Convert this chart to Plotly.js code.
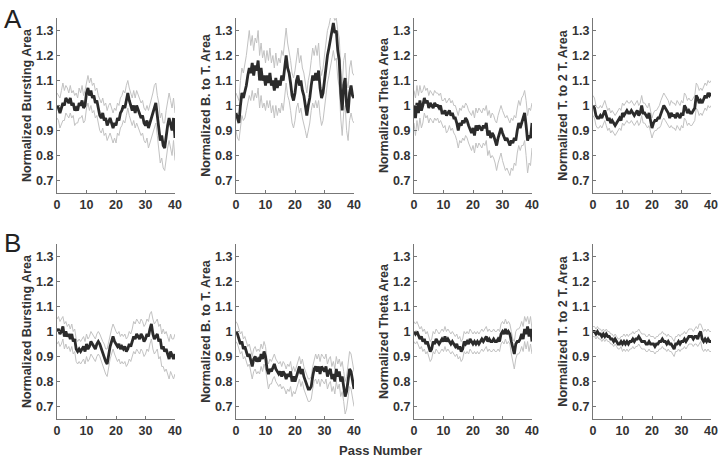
<!DOCTYPE html>
<html>
<head>
<meta charset="utf-8">
<script src="https://cdn.plot.ly/plotly-3.0.1.min.js"></script>
<style>html,body{margin:0;padding:0;background:#fff;}#chart{width:720px;height:459px;}</style>
</head>
<body>
<div id="chart"></div>
<script>
// Pass numbers (x grid, step 0.5 from 0 to 40)
const passes = [];
for (let i = 0; i <= 80; i++) passes.push(i / 2);

const yTitles = ["Normalized Bursting Area", "Normalized B. to T. Area", "Normalized Theta Area", "Normalized T. to 2 T. Area"];
const rowLabels = ["A", "B"];
const xTickVals = [0, 10, 20, 30, 40];
const yTickVals = [0.7, 0.8, 0.9, 1.0, 1.1, 1.2, 1.3];

// ---- Row A ----
const burstA_mean = [1.00,0.99,0.97,0.99,1.01,1.00,1.03,1.02,1.01,1.03, 1.00,1.01,0.98,0.99,0.98,1.01,1.00,1.02,0.99,1.00, 1.05,1.07,1.04,1.06,1.03,1.04,1.01,1.02,0.98,0.96, 0.95,0.97,0.94,0.95,0.92,0.94,0.95,0.93,0.91,0.93, 0.92,0.95,0.94,0.97,0.98,1.00,0.99,1.02,1.05,1.02, 1.00,0.98,1.00,0.97,1.00,0.98,0.97,0.95,0.96,0.93, 0.92,0.94,0.91,0.93,0.95,0.97,1.00,1.01,0.96,0.92, 0.86,0.88,0.84,0.83,0.89,0.92,0.95,0.92,0.90,0.95, 0.87];
const burstA_upper = [1.05,1.04,1.03,1.06,1.09,1.06,1.08,1.07,1.05,1.08, 1.05,1.06,1.04,1.05,1.03,1.07,1.05,1.08,1.04,1.06, 1.10,1.12,1.09,1.11,1.08,1.09,1.06,1.07,1.04,1.02, 1.01,1.03,1.00,1.01,0.98,1.00,1.01,0.99,0.97,0.99, 0.98,1.01,1.00,1.03,1.04,1.06,1.05,1.08,1.10,1.07, 1.05,1.03,1.06,1.03,1.06,1.04,1.03,1.01,1.02,0.99, 0.98,1.00,0.98,1.00,1.02,1.05,1.08,1.09,1.04,1.01, 0.95,0.97,0.93,0.93,0.98,1.01,1.05,1.02,0.99,1.03, 0.97];
const burstA_lower = [0.95,0.94,0.91,0.93,0.94,0.94,0.97,0.96,0.95,0.97, 0.95,0.96,0.92,0.93,0.93,0.95,0.95,0.96,0.93,0.94, 0.99,1.01,0.98,1.00,0.97,0.98,0.95,0.96,0.92,0.90, 0.89,0.91,0.88,0.89,0.86,0.88,0.89,0.87,0.85,0.87, 0.85,0.89,0.88,0.91,0.92,0.94,0.93,0.96,0.99,0.96, 0.94,0.92,0.94,0.91,0.93,0.91,0.90,0.88,0.89,0.86, 0.85,0.87,0.83,0.85,0.87,0.89,0.92,0.93,0.88,0.83, 0.77,0.79,0.75,0.74,0.80,0.83,0.86,0.82,0.80,0.86, 0.78];

const btA_mean = [0.97,0.95,0.93,1.00,1.05,1.03,1.05,1.08,1.12,1.15, 1.13,1.17,1.12,1.16,1.14,1.18,1.10,1.15,1.10,1.12, 1.08,1.12,1.09,1.13,1.08,1.10,1.06,1.11,1.07,1.10, 1.08,1.12,1.10,1.16,1.20,1.15,1.13,1.09,1.04,1.02, 1.05,1.10,1.12,1.08,1.10,1.06,1.04,1.00,0.96,1.00, 1.03,1.08,1.12,1.10,1.13,1.10,1.14,1.07,1.03,1.05, 1.10,1.16,1.20,1.23,1.27,1.31,1.33,1.29,1.30,1.22, 1.18,1.05,0.98,1.08,1.11,1.00,0.97,1.05,1.08,1.04, 1.03];
const btA_upper = [1.05,1.03,1.02,1.10,1.15,1.13,1.16,1.20,1.25,1.30, 1.24,1.28,1.22,1.27,1.25,1.30,1.20,1.25,1.19,1.22, 1.17,1.22,1.18,1.23,1.17,1.20,1.15,1.21,1.16,1.19, 1.17,1.22,1.20,1.27,1.31,1.25,1.22,1.18,1.13,1.11, 1.14,1.20,1.23,1.17,1.20,1.15,1.13,1.09,1.05,1.10, 1.13,1.18,1.23,1.20,1.24,1.20,1.25,1.16,1.12,1.15, 1.20,1.26,1.30,1.32,1.35,1.36,1.36,1.34,1.35,1.30, 1.27,1.15,1.08,1.18,1.21,1.10,1.07,1.15,1.18,1.13, 1.12];
const btA_lower = [0.90,0.87,0.86,0.91,0.96,0.94,0.95,0.98,1.01,1.04, 1.02,1.06,1.02,1.05,1.03,1.07,0.99,1.04,0.99,1.01, 0.98,1.02,0.99,1.02,0.97,1.00,0.95,1.00,0.96,0.99, 0.97,1.01,0.98,1.05,1.09,1.04,1.02,0.98,0.93,0.91, 0.94,0.99,1.01,0.97,0.99,0.95,0.93,0.90,0.87,0.90, 0.93,0.98,1.01,0.99,1.02,0.99,1.02,0.96,0.92,0.94, 0.99,1.05,1.09,1.12,1.16,1.20,1.22,1.18,1.19,1.11, 1.07,0.95,0.88,0.97,1.00,0.90,0.86,0.94,0.97,0.94, 0.93];

const thetaA_mean = [1.00,0.95,1.01,0.97,1.02,0.98,1.00,1.03,1.01,1.02, 0.99,1.01,1.00,0.99,1.01,1.00,1.00,0.99,1.00,0.97, 0.97,0.98,0.96,0.97,0.98,0.96,0.97,0.95,0.95,0.93, 0.90,0.93,0.92,0.94,0.93,0.95,0.94,0.92,0.90,0.89, 0.91,0.88,0.92,0.90,0.92,0.91,0.90,0.92,0.91,0.93, 0.88,0.90,0.87,0.89,0.88,0.86,0.84,0.87,0.89,0.91, 0.89,0.87,0.86,0.87,0.85,0.84,0.86,0.85,0.87,0.86, 0.90,0.93,0.91,0.93,0.94,0.97,0.92,0.86,0.88,0.87, 0.93];
const thetaA_upper = [1.06,1.03,1.08,1.04,1.08,1.05,1.06,1.08,1.06,1.07, 1.04,1.06,1.05,1.04,1.06,1.05,1.05,1.04,1.05,1.02, 1.02,1.03,1.01,1.02,1.03,1.01,1.02,1.00,1.00,0.98, 0.96,0.99,0.98,1.00,0.99,1.01,1.00,0.98,0.97,0.96, 0.98,0.95,0.99,0.97,0.99,0.98,0.97,0.99,0.98,1.00, 0.96,0.98,0.95,0.97,0.96,0.94,0.93,0.96,0.98,1.00, 0.98,0.96,0.95,0.96,0.94,0.93,0.95,0.94,0.96,0.95, 0.99,1.02,1.00,1.03,1.04,1.06,1.02,0.96,0.99,0.98, 1.01];
const thetaA_lower = [0.93,0.88,0.94,0.90,0.95,0.91,0.93,0.97,0.95,0.96, 0.93,0.95,0.94,0.93,0.95,0.94,0.95,0.93,0.94,0.92, 0.91,0.92,0.89,0.90,0.92,0.90,0.91,0.89,0.88,0.86, 0.83,0.86,0.85,0.87,0.86,0.88,0.87,0.85,0.83,0.82, 0.84,0.81,0.85,0.83,0.85,0.84,0.83,0.85,0.84,0.86, 0.80,0.82,0.79,0.80,0.79,0.77,0.74,0.77,0.79,0.81, 0.78,0.76,0.74,0.75,0.73,0.72,0.75,0.74,0.77,0.76, 0.81,0.84,0.82,0.84,0.84,0.86,0.80,0.73,0.77,0.76, 0.83];

const t2tA_mean = [1.00,0.99,0.96,0.95,0.95,0.96,0.95,0.97,0.98,0.96, 0.94,0.95,0.93,0.94,0.93,0.92,0.93,0.94,0.95,0.94, 0.97,0.96,0.97,0.98,0.97,0.97,0.98,0.97,0.96,0.97, 0.98,0.96,0.97,1.00,0.97,0.97,0.96,0.95,0.97,0.93, 0.91,0.93,0.94,0.94,0.95,0.95,0.97,0.99,1.00,0.99, 0.98,0.97,0.95,0.97,0.96,0.96,0.95,0.97,0.96,0.95, 0.97,0.96,1.00,0.99,0.97,0.98,0.97,0.97,0.98,0.99, 1.04,1.03,1.01,1.02,1.01,1.03,1.04,1.03,1.05,1.04, 1.05];
const t2tA_upper = [1.04,1.03,1.00,0.99,0.99,1.00,0.99,1.01,1.02,1.00, 0.98,0.99,0.97,0.98,0.97,0.96,0.97,0.98,0.99,0.98, 1.01,1.00,1.01,1.02,1.01,1.01,1.02,1.01,1.00,1.01, 1.02,1.00,1.01,1.04,1.01,1.01,1.00,0.99,1.01,0.97, 0.95,0.97,0.98,0.98,0.99,1.00,1.02,1.04,1.05,1.04, 1.03,1.02,1.00,1.02,1.01,1.01,1.00,1.02,1.01,1.00, 1.02,1.01,1.05,1.04,1.02,1.03,1.02,1.02,1.03,1.04, 1.09,1.08,1.06,1.07,1.06,1.08,1.09,1.08,1.10,1.09, 1.10];
const t2tA_lower = [0.96,0.95,0.92,0.91,0.91,0.92,0.91,0.93,0.94,0.92, 0.90,0.91,0.89,0.90,0.89,0.88,0.89,0.90,0.91,0.90, 0.93,0.92,0.93,0.94,0.93,0.93,0.94,0.93,0.92,0.93, 0.94,0.92,0.93,0.96,0.93,0.93,0.92,0.91,0.92,0.89, 0.87,0.89,0.90,0.90,0.91,0.91,0.92,0.94,0.95,0.94, 0.93,0.92,0.91,0.92,0.91,0.91,0.90,0.92,0.91,0.90, 0.92,0.91,0.95,0.94,0.92,0.93,0.92,0.92,0.93,0.94, 0.99,0.98,0.96,0.97,0.96,0.98,0.99,0.98,1.00,0.99, 1.00];

// ---- Row B ----
const burstB_mean = [1.00,1.01,0.99,1.00,1.02,0.98,1.00,0.98,0.99,0.97, 0.99,0.96,0.97,0.93,0.92,0.93,0.92,0.93,0.94,0.92, 0.95,0.93,0.94,0.96,0.95,0.94,0.93,0.95,0.96,0.95, 0.93,0.92,0.90,0.88,0.87,0.91,0.94,0.96,0.98,0.96, 0.95,0.94,0.95,0.93,0.94,0.93,0.94,0.92,0.93,0.95, 0.94,0.96,0.98,0.97,0.99,0.98,0.97,0.99,0.98,0.96, 0.97,0.99,0.98,1.01,1.03,0.99,0.97,0.98,0.99,0.96, 0.97,0.93,0.94,0.92,0.93,0.91,0.89,0.92,0.90,0.89, 0.91];
const burstB_upper = [1.05,1.06,1.04,1.05,1.06,1.03,1.04,1.02,1.03,1.01, 1.03,1.00,1.01,0.97,0.96,0.97,0.96,0.97,0.98,0.96, 0.99,0.97,0.98,1.00,0.99,0.98,0.97,0.99,1.00,0.99, 0.97,0.96,0.95,0.93,0.93,0.96,0.99,1.01,1.03,1.01, 1.00,0.99,1.00,0.98,0.99,0.98,0.99,0.97,0.98,1.00, 0.99,1.01,1.04,1.03,1.05,1.04,1.03,1.05,1.04,1.02, 1.03,1.05,1.04,1.07,1.08,1.05,1.03,1.04,1.05,1.02, 1.03,0.99,1.01,0.99,1.00,0.98,0.96,0.99,0.97,0.97, 0.99];
const burstB_lower = [0.95,0.96,0.94,0.95,0.97,0.93,0.95,0.93,0.94,0.92, 0.94,0.91,0.92,0.88,0.87,0.88,0.87,0.88,0.89,0.87, 0.90,0.88,0.89,0.91,0.90,0.89,0.88,0.90,0.91,0.90, 0.88,0.87,0.85,0.83,0.82,0.86,0.89,0.91,0.93,0.91, 0.89,0.88,0.89,0.87,0.88,0.87,0.88,0.86,0.87,0.89, 0.88,0.90,0.92,0.91,0.93,0.92,0.91,0.93,0.92,0.90, 0.91,0.93,0.92,0.95,0.97,0.93,0.91,0.92,0.93,0.89, 0.90,0.86,0.86,0.84,0.85,0.83,0.81,0.84,0.82,0.81, 0.83];

const btB_mean = [1.00,0.99,0.97,0.95,0.96,0.93,0.94,0.92,0.90,0.91, 0.88,0.86,0.89,0.90,0.88,0.89,0.88,0.91,0.89,0.92, 0.90,0.85,0.83,0.85,0.84,0.86,0.87,0.85,0.84,0.83, 0.84,0.82,0.84,0.83,0.81,0.83,0.82,0.84,0.80,0.82, 0.80,0.82,0.84,0.86,0.83,0.85,0.82,0.80,0.79,0.77, 0.77,0.78,0.82,0.85,0.86,0.84,0.86,0.83,0.86,0.85, 0.84,0.86,0.82,0.84,0.85,0.81,0.83,0.80,0.85,0.82, 0.84,0.80,0.82,0.78,0.74,0.76,0.82,0.85,0.84,0.80, 0.77];
const btB_upper = [1.04,1.03,1.01,0.99,1.00,0.97,0.98,0.96,0.94,0.95, 0.92,0.90,0.93,0.94,0.92,0.93,0.92,0.95,0.93,0.96, 0.94,0.89,0.87,0.89,0.88,0.90,0.91,0.89,0.88,0.87, 0.88,0.86,0.88,0.87,0.85,0.87,0.86,0.88,0.84,0.86, 0.84,0.86,0.88,0.90,0.87,0.89,0.86,0.84,0.83,0.81, 0.81,0.82,0.86,0.89,0.91,0.89,0.91,0.88,0.91,0.90, 0.89,0.91,0.87,0.89,0.90,0.86,0.88,0.85,0.90,0.87, 0.89,0.86,0.88,0.84,0.80,0.82,0.88,0.92,0.91,0.87, 0.84];
const btB_lower = [0.96,0.95,0.93,0.91,0.92,0.89,0.90,0.88,0.86,0.87, 0.83,0.81,0.84,0.85,0.83,0.84,0.83,0.86,0.84,0.87, 0.85,0.80,0.77,0.79,0.79,0.81,0.82,0.80,0.79,0.78, 0.79,0.77,0.78,0.77,0.75,0.77,0.76,0.78,0.74,0.76, 0.75,0.77,0.79,0.81,0.78,0.80,0.77,0.75,0.74,0.72, 0.72,0.73,0.77,0.80,0.81,0.79,0.81,0.78,0.81,0.80, 0.79,0.81,0.77,0.79,0.80,0.76,0.78,0.75,0.80,0.77, 0.79,0.74,0.76,0.72,0.67,0.69,0.75,0.78,0.77,0.73, 0.70];

const thetaB_mean = [1.00,0.99,1.00,0.98,0.97,0.98,0.96,0.97,0.95,0.96, 0.94,0.92,0.93,0.96,0.95,0.97,0.96,0.95,0.96,0.97, 0.96,0.98,0.96,0.97,0.96,0.95,0.96,0.95,0.94,0.95, 0.93,0.94,0.92,0.93,0.96,0.95,0.96,0.95,0.97,0.96, 0.95,0.96,0.95,0.96,0.95,0.96,0.97,0.96,0.97,0.98, 0.96,0.97,0.96,0.96,0.97,0.96,0.96,0.97,0.96,0.99, 1.00,0.99,1.01,0.99,1.00,0.99,0.96,0.93,0.91,0.95, 0.96,0.96,0.97,0.99,0.97,1.01,0.99,1.02,0.98,1.01, 0.96];
const thetaB_upper = [1.04,1.03,1.04,1.02,1.01,1.02,1.00,1.01,0.99,1.00, 0.98,0.96,0.97,1.00,0.99,1.01,1.00,0.99,1.00,1.01, 1.00,1.02,1.00,1.01,1.00,0.99,1.00,0.99,0.98,0.99, 0.97,0.98,0.96,0.97,1.00,0.99,1.00,0.99,1.01,1.00, 0.99,1.00,0.99,1.00,0.99,1.00,1.01,1.00,1.01,1.02, 1.00,1.01,1.00,1.00,1.01,1.00,1.00,1.01,1.00,1.03, 1.04,1.03,1.05,1.03,1.04,1.03,1.00,0.97,0.96,1.00, 1.01,1.01,1.02,1.04,1.02,1.06,1.04,1.06,1.03,1.06, 1.01];
const thetaB_lower = [0.96,0.95,0.96,0.94,0.93,0.94,0.92,0.93,0.91,0.92, 0.90,0.88,0.89,0.92,0.91,0.93,0.92,0.91,0.92,0.93, 0.92,0.94,0.92,0.93,0.92,0.91,0.92,0.91,0.90,0.91, 0.89,0.90,0.88,0.89,0.92,0.91,0.92,0.91,0.93,0.92, 0.91,0.92,0.91,0.92,0.91,0.92,0.93,0.92,0.93,0.94, 0.92,0.93,0.92,0.92,0.93,0.92,0.92,0.93,0.92,0.95, 0.96,0.95,0.97,0.95,0.96,0.95,0.91,0.88,0.85,0.89, 0.91,0.91,0.92,0.94,0.92,0.96,0.93,0.96,0.92,0.95, 0.91];

const t2tB_mean = [1.00,1.00,0.99,1.00,0.99,0.99,0.98,0.99,0.98,0.99, 0.98,0.98,0.97,0.97,0.96,0.97,0.96,0.95,0.95,0.96, 0.95,0.96,0.95,0.96,0.95,0.96,0.96,0.97,0.96,0.97, 0.97,0.98,0.97,0.96,0.96,0.96,0.95,0.95,0.96,0.95, 0.95,0.95,0.94,0.95,0.95,0.96,0.96,0.97,0.96,0.96, 0.95,0.96,0.95,0.95,0.94,0.93,0.95,0.95,0.96,0.95, 0.96,0.96,0.97,0.96,0.97,0.98,0.98,0.98,0.97,0.98, 0.98,0.97,0.99,1.00,0.97,0.96,0.97,0.96,0.97,0.96, 0.96];
const t2tB_upper = [1.02,1.02,1.01,1.02,1.01,1.01,1.00,1.01,1.00,1.01, 1.00,1.00,0.99,0.99,0.98,0.99,0.98,0.97,0.97,0.98, 0.98,0.99,0.98,0.99,0.98,0.99,0.99,1.00,0.99,1.00, 1.00,1.01,1.00,0.99,0.99,0.99,0.98,0.98,0.99,0.98, 0.98,0.98,0.97,0.98,0.98,0.99,0.99,1.00,0.99,0.99, 0.98,0.99,0.98,0.98,0.97,0.96,0.98,0.98,0.99,0.98, 0.99,0.99,1.00,0.99,1.00,1.01,1.01,1.01,1.00,1.01, 1.02,1.01,1.03,1.03,1.01,1.00,1.01,1.00,1.01,1.00, 1.00];
const t2tB_lower = [0.98,0.98,0.97,0.98,0.97,0.97,0.96,0.97,0.96,0.97, 0.96,0.96,0.95,0.95,0.94,0.95,0.94,0.93,0.93,0.94, 0.92,0.93,0.92,0.93,0.92,0.93,0.93,0.94,0.93,0.94, 0.94,0.95,0.94,0.93,0.93,0.93,0.92,0.92,0.93,0.92, 0.92,0.92,0.91,0.92,0.92,0.93,0.93,0.94,0.93,0.93, 0.92,0.93,0.92,0.92,0.91,0.90,0.92,0.92,0.93,0.92, 0.93,0.93,0.94,0.93,0.94,0.95,0.95,0.95,0.94,0.95, 0.95,0.94,0.95,0.96,0.93,0.92,0.93,0.92,0.93,0.92, 0.92];

const panels = [
  [burstA_mean, burstA_upper, burstA_lower], [btA_mean, btA_upper, btA_lower],
  [thetaA_mean, thetaA_upper, thetaA_lower], [t2tA_mean, t2tA_upper, t2tA_lower],
  [burstB_mean, burstB_upper, burstB_lower], [btB_mean, btB_upper, btB_lower],
  [thetaB_mean, thetaB_upper, thetaB_lower], [t2tB_mean, t2tB_upper, t2tB_lower]
];

const W = 720, H = 459;
const colLeft = [57, 236, 414, 593];
const plotW = 118;
const rowTop = [18, 244];
const plotH = 175;

const FONT = "Liberation Sans, Arial, Helvetica, sans-serif";
const traces = [];
const layout = {
  width: W, height: H,
  margin: {l: 0, r: 0, t: 0, b: 0},
  paper_bgcolor: "#fff", plot_bgcolor: "#fff",
  showlegend: false,
  font: {family: FONT, color: "#333"},
  annotations: [],
};

panels.forEach((p, idx) => {
  const row = Math.floor(idx / 4), col = idx % 4;
  const n = idx + 1;
  const xa = "x" + (n === 1 ? "" : n), ya = "y" + (n === 1 ? "" : n);
  const xk = "xaxis" + (n === 1 ? "" : n), yk = "yaxis" + (n === 1 ? "" : n);
  [p[1], p[2]].forEach(arr => traces.push({
    x: passes, y: arr, xaxis: xa, yaxis: ya, type: "scatter", mode: "lines",
    line: {color: "#c2c2c2", width: 1}, hoverinfo: "skip"
  }));
  traces.push({
    x: passes, y: p[0], xaxis: xa, yaxis: ya, type: "scatter", mode: "lines",
    line: {color: "#2b2b2b", width: 2.8}
  });
  layout[xk] = {
    domain: [colLeft[col] / W, (colLeft[col] + plotW) / W],
    anchor: ya, range: [0, 40], tickvals: xTickVals,
    showline: true, linecolor: "#777", linewidth: 1, mirror: false,
    ticks: "inside", ticklen: 3, tickcolor: "#777",
    showgrid: false, zeroline: false,
    tickfont: {family: FONT, size: 12.5, color: "#333", weight: "bold"}
  };
  layout[yk] = {
    domain: [1 - (rowTop[row] + plotH) / H, 1 - rowTop[row] / H],
    anchor: xa, range: [0.65, 1.35], tickvals: yTickVals,
    ticktext: yTickVals.map(v => String(v)),
    showline: true, linecolor: "#777", linewidth: 1, mirror: false,
    ticks: "inside", ticklen: 3, tickcolor: "#777",
    showgrid: false, zeroline: false,
    tickfont: {family: FONT, size: 12.5, color: "#333", weight: "bold"},
    title: {text: yTitles[col], font: {family: FONT, size: 12.5, color: "#333", weight: "bold"}, standoff: 1}
  };
});

rowLabels.forEach((lab, i) => {
  layout.annotations.push({
    text: lab, xref: "paper", yref: "paper", x: 2 / W, y: 1 - (i === 0 ? 2 : 226) / H,
    xanchor: "left", yanchor: "top", showarrow: false,
    font: {family: FONT, size: 26, color: "#222"}
  });
});
layout.annotations.push({
  text: "Pass Number", xref: "paper", yref: "paper", x: 380 / W, y: 1 - 450 / H,
  xanchor: "center", yanchor: "middle", showarrow: false, borderpad: 0,
  font: {family: FONT, size: 13, color: "#333", weight: "bold"}
});

Plotly.newPlot("chart", traces, layout, {displayModeBar: false, staticPlot: true});
</script>
</body>
</html>
